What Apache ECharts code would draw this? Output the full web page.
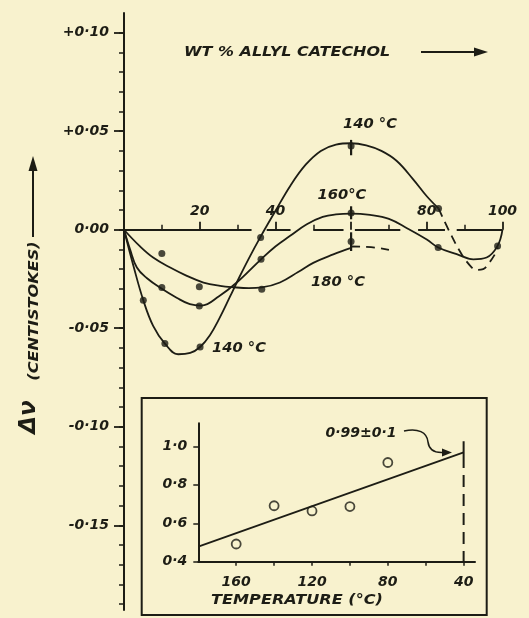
<!DOCTYPE html>
<html><head><meta charset="utf-8">
<script src="https://cdn.jsdelivr.net/npm/echarts@6/dist/echarts.min.js"></script>
<style>html,body{margin:0;padding:0;background:#f8f2ce}#c{width:529px;height:618px}</style>
</head><body><div id="c"></div>
<script>
// ---------- main chart data ----------
const xLabelValues = [20, 40, 80, 100];
const yTickValues = [0.10, 0.05, 0, -0.05, -0.10, -0.15];
const yTickLabels = ['+0·10', '+0·05', '0·00', '-0·05', '-0·10', '-0·15'];
const yMinorTicks = [-0.19,-0.18,-0.17,-0.16,-0.15,-0.14,-0.13,-0.12,-0.11,-0.10,-0.09,-0.08,-0.07,-0.06,-0.05,-0.04,-0.03,-0.02,-0.01,0,0.01,0.02,0.03,0.04,0.05,0.06,0.07,0.08,0.09,0.10];
// visible pieces of the broken zero line (wt %)
const axisSegments = [[0,33.7],[37.7,44],[50,58],[61,73],[77.7,84.8],[87.9,100]];

// smooth curves (wt %, Δν)
const curve140 = [[0,0],[2.5,-0.0184],[5.1,-0.0358],[7.7,-0.0488],[10.8,-0.0578],[14.3,-0.0632],[17.5,-0.0625],[20.1,-0.0595],[22.7,-0.0535],[25.2,-0.045],[28,-0.034],[30.5,-0.024],[33,-0.0145],[36.1,-0.0035],[40,0.0095],[44,0.0225],[48,0.033],[52,0.040],[56,0.0432],[60,0.0439],[64,0.0428],[68,0.040],[72,0.035],[76.4,0.0256],[80,0.017],[83.1,0.0108]];
const curve140Dashed = [[83.1,0.0108],[86.1,-0.0014],[89.2,-0.0124],[91.9,-0.0192],[93.2,-0.0204],[94.9,-0.020],[96.2,-0.0175],[98.0,-0.0124],[98.8,-0.009]];
const curve160 = [[0,0],[1.6,-0.0099],[3.4,-0.0192],[6,-0.0245],[10,-0.030],[13.9,-0.0345],[17.4,-0.0378],[20.5,-0.0385],[25.2,-0.0336],[29.8,-0.0268],[36.2,-0.015],[40,-0.0085],[43.9,-0.0031],[48.3,0.0028],[52.5,0.0065],[56,0.0078],[60,0.0082],[65,0.0075],[70,0.0055],[75,0.0005],[80,-0.005],[83,-0.009],[87.9,-0.0124],[92.3,-0.015],[95.8,-0.0141],[98.7,-0.0082],[100,0]];
const curve180 = [[0,0],[4.1,-0.0082],[7.7,-0.0141],[12.2,-0.0192],[16.6,-0.0234],[21,-0.0268],[25.4,-0.0285],[29,-0.0292],[33,-0.0296],[36.4,-0.0293],[41.2,-0.0268],[46,-0.0215],[50,-0.0168],[55.3,-0.0125],[60,-0.0092]];
const curve180Dashed = [[60,-0.0085],[64,-0.0087],[67,-0.0092],[70,-0.0102]];

// measured points
const points140 = [[5.1,-0.0358],[10.8,-0.0578],[20.1,-0.0595],[36.1,-0.004],[60,0.0425],[83.1,0.0108]];
const points160 = [[10,-0.0293],[19.9,-0.0387],[36.2,-0.015],[60,0.0085],[83,-0.009],[98.7,-0.0082]];
const points180 = [[10,-0.0121],[19.9,-0.029],[36.4,-0.0302],[60,-0.006]];
// error bars at 60 wt % : [x, low, high]
const errorBars = [[60,0.0378,0.0456],[60,0.0053,0.0119],[60,-0.0108,-0.0013]];

// ---------- inset data ----------
const insetTemps = [160, 140, 120, 100, 80];
const insetValues = [0.492, 0.691, 0.664, 0.687, 0.916];
const insetFit = [[180,0.478],[40,0.969]];
const insetMarkSolid = [[40,1.026],[40,0.95]];
const insetMarkDashed = [[40,0.95],[40,0.4]];
const insetXTicks = [40,60,80,100,120,140,160];
const insetXLabels = [40,80,120,160];
const insetYTicks = [0.4,0.6,0.8,1.0];
const insetYLabels = ['0·4','0·6','0·8','1·0'];

const INK = '#1d1d15', BG = '#f8f2ce';
const F = "'DejaVu Sans', sans-serif";
const numLabel = {color: INK, fontFamily: F, fontStyle: 'italic', fontWeight: 'bold', fontSize: 14};

// main grid geometry
const G0 = {left: 124, top: 13, width: 378.5, height: 597};
const Y_MIN = -0.193, Y_MAX = 0.11;
const zeroOffset = -G0.height * (0 - Y_MIN) / (Y_MAX - Y_MIN); // lift x axis onto Δν = 0

function lineSeries(data, dashed) {
  return {type: 'line', xAxisIndex: 0, yAxisIndex: 0, data: data, smooth: 0.4,
    showSymbol: false, symbol: 'none', silent: true,
    lineStyle: {color: INK, width: 1.8, type: dashed ? [9, 6] : 'solid'}};
}
function dots(data) {
  return {type: 'scatter', xAxisIndex: 0, yAxisIndex: 0, data: data, symbolSize: 7, silent: true,
    itemStyle: {color: INK}};
}
const txt = (s, x, y, sx, size, bold) => ({type: 'text', x: x, y: y, scaleX: sx, silent: true,
  style: {text: s, font: 'italic ' + (bold ? 'bold ' : '') + size + "px 'DejaVu Sans'", fill: INK,
    align: 'center', verticalAlign: 'middle'}});

const chart = echarts.init(document.getElementById('c'), null, {renderer: 'canvas'});
const option = {
  backgroundColor: BG,
  animation: false,
  grid: [
    Object.assign({containLabel: false, outerBoundsMode: 'none'}, G0),
    {left: 198.3, top: 423.3, width: 276.7, height: 138.4, containLabel: false, outerBoundsMode: 'none'}
  ],
  xAxis: [
    {gridIndex: 0, type: 'value', min: 0, max: 100, interval: 20, position: 'bottom', offset: zeroOffset,
      axisLine: {show: false, onZero: false},
      axisTick: {show: true, inside: true, length: 8, lineStyle: {color: INK, width: 1.8}},
      minorTick: {show: true, splitNumber: 2, length: 5, lineStyle: {color: INK, width: 1.5}},
      axisLabel: Object.assign({inside: true, margin: 11, customValues: xLabelValues}, numLabel),
      splitLine: {show: false}, minorSplitLine: {show: false}},
    {gridIndex: 1, type: 'value', min: 34, max: 180, inverse: true, position: 'bottom',
      axisLine: {show: true, onZero: false, lineStyle: {color: INK, width: 2}},
      axisTick: {show: true, customValues: insetXTicks, length: 4, lineStyle: {color: INK, width: 1.5}},
      axisLabel: Object.assign({margin: 14, customValues: insetXLabels}, numLabel),
      splitLine: {show: false}}
  ],
  yAxis: [
    {gridIndex: 0, type: 'value', min: Y_MIN, max: Y_MAX, position: 'left',
      axisLine: {show: true, onZero: false, lineStyle: {color: INK, width: 2}},
      axisTick: {show: true, customValues: yMinorTicks, length: 5, lineStyle: {color: INK, width: 1.5}},
      axisLabel: Object.assign({margin: 15, customValues: yTickValues,
        formatter: v => yTickLabels[yTickValues.findIndex(t => Math.abs(t - v) < 1e-9)]}, numLabel),
      splitLine: {show: false}},
    {gridIndex: 0, type: 'value', min: Y_MIN, max: Y_MAX, position: 'left',
      axisLine: {show: false, onZero: false},
      axisTick: {show: true, customValues: yTickValues, length: 10, lineStyle: {color: INK, width: 1.8}},
      axisLabel: {show: false}, splitLine: {show: false}},
    {gridIndex: 1, type: 'value', min: 0.4, max: 1.12, position: 'left',
      axisLine: {show: true, onZero: false, lineStyle: {color: INK, width: 2}},
      axisTick: {show: true, customValues: insetYTicks, length: 5, lineStyle: {color: INK, width: 1.5}},
      axisLabel: Object.assign({margin: 11, customValues: insetYTicks,
        formatter: v => insetYLabels[insetYTicks.findIndex(t => Math.abs(t - v) < 1e-9)]}, numLabel),
      splitLine: {show: false}}
  ],
  series: [
    {type: 'lines', coordinateSystem: 'cartesian2d', xAxisIndex: 0, yAxisIndex: 0, silent: true,
      data: axisSegments.map(s => ({coords: [[s[0], 0], [s[1], 0]]})),
      lineStyle: {color: INK, width: 2, opacity: 1, curveness: 0}},
    lineSeries(curve140, false),
    lineSeries(curve140Dashed, true),
    lineSeries(curve160, false),
    lineSeries(curve180, false),
    lineSeries(curve180Dashed, true),
    dots(points140), dots(points160), dots(points180),
    {type: 'custom', xAxisIndex: 0, yAxisIndex: 0, data: errorBars, silent: true,
      encode: {x: 0, y: [1, 2]},
      renderItem: (params, api) => {
        const p1 = api.coord([api.value(0), api.value(1)]);
        const p2 = api.coord([api.value(0), api.value(2)]);
        return {type: 'line', shape: {x1: p1[0], y1: p1[1], x2: p2[0], y2: p2[1]},
          style: {stroke: INK, lineWidth: 2.2}};
      }},
    // inset
    {type: 'line', xAxisIndex: 1, yAxisIndex: 2, data: insetFit, showSymbol: false, symbol: 'none', silent: true,
      lineStyle: {color: INK, width: 1.8}},
    {type: 'line', xAxisIndex: 1, yAxisIndex: 2, data: insetMarkSolid, showSymbol: false, symbol: 'none', silent: true,
      lineStyle: {color: INK, width: 2}},
    {type: 'line', xAxisIndex: 1, yAxisIndex: 2, data: insetMarkDashed, showSymbol: false, symbol: 'none', silent: true,
      lineStyle: {color: INK, width: 2, type: [12, 7]}},
    {type: 'scatter', xAxisIndex: 1, yAxisIndex: 2, silent: true,
      data: insetTemps.map((t, i) => [t, insetValues[i]]), symbolSize: 9,
      itemStyle: {color: BG, borderColor: INK, borderWidth: 1.8}}
  ],
  graphic: [
    {type: 'text', x: 184, y: 52, scaleX: 1.14, silent: true,
      style: {text: 'WT % ALLYL CATECHOL', font: "italic bold 14px 'DejaVu Sans'", fill: INK, align: 'left', verticalAlign: 'middle'}},
    {type: 'line', silent: true, shape: {x1: 421, y1: 52, x2: 476, y2: 52}, style: {stroke: INK, lineWidth: 2}},
    {type: 'polygon', silent: true, shape: {points: [[488, 52], [474, 47.5], [474, 56.5]]}, style: {fill: INK}},
    // y-axis title
    Object.assign(txt('(CENTISTOKES)', 34, 311, 1.15, 14, true), {rotation: Math.PI / 2}),
    Object.assign(txt('Δν', 29, 417, 1, 23, true), {rotation: Math.PI / 2}),
    {type: 'line', silent: true, shape: {x1: 33, y1: 237, x2: 33, y2: 168}, style: {stroke: INK, lineWidth: 2}},
    {type: 'polygon', silent: true, shape: {points: [[33, 156], [28.5, 171], [37.5, 171]]}, style: {fill: INK}},
    // curve labels
    txt('140 °C', 370, 124, 1.05, 14, true),
    txt('160°C', 342, 195, 1.05, 14, true),
    txt('180 °C', 338, 282, 1.05, 14, true),
    txt('140 °C', 239, 348, 1.05, 14, true),
    // inset frame and annotations
    {type: 'rect', silent: true, shape: {x: 141.7, y: 398, width: 345, height: 217},
      style: {fill: 'none', stroke: INK, lineWidth: 2}},
    txt('0·99±0·1', 361, 433, 1, 14, true),
    {type: 'bezierCurve', silent: true,
      shape: {x1: 404, y1: 431, cpx1: 418, cpy1: 428, cpx2: 427, cpy2: 432, x2: 428, y2: 442},
      style: {stroke: INK, lineWidth: 1.6, fill: 'none'}},
    {type: 'bezierCurve', silent: true,
      shape: {x1: 428, y1: 442, cpx1: 429, cpy1: 450, cpx2: 434, cpy2: 453, x2: 443, y2: 452.5},
      style: {stroke: INK, lineWidth: 1.6, fill: 'none'}},
    {type: 'polygon', silent: true, shape: {points: [[452, 452.5], [442, 448.5], [442, 456.5]]}, style: {fill: INK}},
    txt('TEMPERATURE (°C)', 297, 600, 1.15, 14, true)
  ]
};
chart.setOption(option);
</script></body></html>
